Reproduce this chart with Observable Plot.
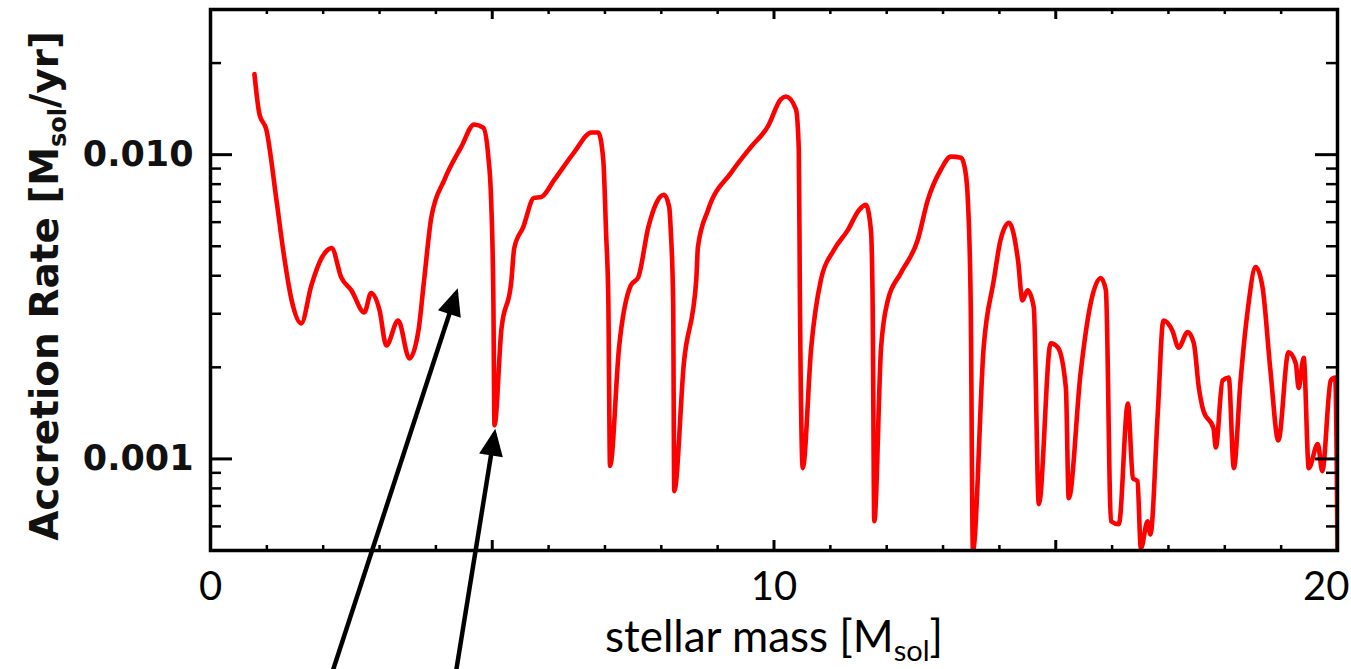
<!DOCTYPE html>
<html><head><meta charset="utf-8">
<script src="https://cdn.jsdelivr.net/npm/d3@7"></script>
<script src="https://cdn.jsdelivr.net/npm/@observablehq/plot@0.6"></script>
<style>body{margin:0;background:#fff;} #chart svg{display:block;overflow:hidden;}</style>
</head><body><div id="chart"></div>
<script>
// stellar mass [Msol]
const mass = [
  0.78, 0.87, 0.99, 1.17, 1.29, 1.44, 1.61, 1.79, 1.97, 2.15,
  2.32, 2.50, 2.73, 2.85, 3.00, 3.12, 3.33, 3.53, 3.69, 3.79,
  3.92, 4.15, 4.45, 4.68, 4.84, 4.93, 4.98, 5.02, 5.04, 5.16,
  5.34, 5.39, 5.55, 5.74, 5.87, 6.10, 6.45, 6.76, 6.88, 6.97,
  7.02, 7.06, 7.09, 7.25, 7.46, 7.59, 7.77, 7.94, 8.05, 8.14,
  8.17, 8.21, 8.23, 8.40, 8.62, 8.65, 8.83, 9.24, 9.59, 9.89,
  10.12, 10.21, 10.39, 10.44, 10.46, 10.51, 10.66, 10.83, 11.06, 11.31,
  11.51, 11.63, 11.72, 11.75, 11.78, 11.90, 12.02, 12.25, 12.55, 12.73,
  12.96, 13.14, 13.32, 13.40, 13.44, 13.49, 13.53, 13.72, 13.90, 14.02,
  14.17, 14.33, 14.41, 14.50, 14.61, 14.70, 14.91, 15.04, 15.18, 15.23,
  15.44, 15.62, 15.80, 15.89, 15.98, 16.12, 16.28, 16.37, 16.45, 16.51,
  16.63, 16.68, 16.81, 16.91, 17.07, 17.18, 17.34, 17.45, 17.54, 17.62,
  17.80, 17.84, 17.96, 18.07, 18.16, 18.28, 18.40, 18.55, 18.67, 18.81,
  18.95, 19.13, 19.26, 19.31, 19.40, 19.49, 19.65, 19.73, 19.88, 19.96,
  20.0
];
// accretion rate [Msol/yr]
const rate = [
  0.0184, 0.01355, 0.0121, 0.0071, 0.00485, 0.00332, 0.00279, 0.00372, 0.00457, 0.00493,
  0.00395, 0.00358, 0.00303, 0.00351, 0.00308, 0.00236, 0.00285, 0.00214, 0.00264, 0.00386,
  0.00624, 0.00826, 0.0106, 0.01257, 0.01227, 0.00985, 0.0071, 0.00332, 0.00129, 0.00264,
  0.00386, 0.00493, 0.00578, 0.00721, 0.00726, 0.00826, 0.01016, 0.01183, 0.01183, 0.00963,
  0.00553, 0.00332, 0.000948, 0.00232, 0.00372, 0.00395, 0.00578, 0.0071, 0.00738, 0.00673,
  0.00553, 0.00332, 0.000783, 0.00206, 0.00386, 0.00497, 0.00658, 0.00873, 0.0106, 0.01236,
  0.0152, 0.01553, 0.01409, 0.0104, 0.00332, 0.000933, 0.00232, 0.00386, 0.00485, 0.00565,
  0.00658, 0.00684, 0.00565, 0.00332, 0.000624, 0.00232, 0.00332, 0.00408, 0.00524, 0.0071,
  0.00892, 0.00985, 0.00977, 0.00873, 0.0071, 0.00332, 0.0005, 0.00232, 0.00386, 0.00524,
  0.00597, 0.0045, 0.00332, 0.00358, 0.00315, 0.00071, 0.0024, 0.00232, 0.00171, 0.000743,
  0.00191, 0.00325, 0.00393, 0.00358, 0.000624, 0.00061, 0.00152, 0.000865, 0.000845, 0.000508,
  0.000624, 0.000565, 0.00141, 0.00285, 0.00264, 0.00232, 0.00261, 0.0024, 0.00171, 0.00144,
  0.00126, 0.00109, 0.00181, 0.00185, 0.000933, 0.00181, 0.00301, 0.00427, 0.00366, 0.00195,
  0.00115, 0.00224, 0.00206, 0.00171, 0.00215, 0.000933, 0.00112, 0.000912, 0.00181, 0.00185,
  0.0005
];
const xMajorTicks = [0, 5, 10, 15, 20];
const xMinorTicks = [1, 2, 3, 4, 6, 7, 8, 9, 11, 12, 13, 14, 16, 17, 18, 19];
const xTickLabels = [0, 10, 20];
const yMajorTicks = [0.001, 0.01];
const yMinorTicks = [0.0006, 0.0007, 0.0008, 0.0009, 0.002, 0.003, 0.004, 0.005, 0.006, 0.007, 0.008, 0.009, 0.02];
// annotation arrows (tail -> head), in data units
const arrowFromMass = [2.11, 4.33];
const arrowFromRate = [0.000186, 0.000186];
const arrowToMass = [4.36, 5.04];
const arrowToRate = [0.00351, 0.00121];
const xLabelParts = ["stellar mass [M", "sol", "]"];
const yLabelParts = ["Accretion Rate [M", "sol", "/yr]"];

const W = 1351, H = 669, mL = 210, mR = 14, mT = 9, mB = 119;
const fw = W - mL - mR, fh = H - mT - mB;
const series = mass.map((m, i) => ({mass: m, rate: rate[i]}));
const arrows = arrowFromMass.map((m, i) => ({x1: m, y1: arrowFromRate[i], x2: arrowToMass[i], y2: arrowToRate[i]}));
const boldFont = "DejaVu Sans";
const lightFont = "Lato";

const plot = Plot.plot({
  width: W, height: H,
  marginLeft: mL, marginRight: mR, marginTop: mT, marginBottom: mB,
  style: {background: "#fff", overflow: "hidden"},
  x: {domain: [0, 20], axis: null},
  y: {type: "log", domain: [0.0005, 0.03], axis: null},
  marks: [
    Plot.line(series, {x: "mass", y: "rate", stroke: "#ff0000", strokeWidth: 4.6, curve: "monotone-x", clip: true, strokeLinejoin: "round"}),
    Plot.frame({stroke: "#000", strokeWidth: 3.5}),
    // y ticks, left & right, inward
    Plot.tickY(yMajorTicks, {y: d => d, insetRight: fw - 22, strokeWidth: 3}),
    Plot.tickY(yMajorTicks, {y: d => d, insetLeft: fw - 22, strokeWidth: 3}),
    Plot.tickY(yMinorTicks, {y: d => d, insetRight: fw - 11, strokeWidth: 2.5}),
    Plot.tickY(yMinorTicks, {y: d => d, insetLeft: fw - 11, strokeWidth: 2.5}),
    // x ticks, bottom & top, inward
    Plot.tickX(xMajorTicks, {x: d => d, insetTop: fh - 10, strokeWidth: 3}),
    Plot.tickX(xMajorTicks, {x: d => d, insetBottom: fh - 10, strokeWidth: 3}),
    Plot.tickX(xMinorTicks, {x: d => d, insetTop: fh - 5, strokeWidth: 2.5}),
    Plot.tickX(xMinorTicks, {x: d => d, insetBottom: fh - 5, strokeWidth: 2.5}),
    // tick labels
    Plot.text(yMajorTicks, {y: d => d, text: d => d3.format(".3f")(d), frameAnchor: "left", dx: -17, textAnchor: "end", lineAnchor: "middle", fontSize: 35, fontWeight: "bold", fontFamily: boldFont, fill: "#111"}),
    Plot.text(xTickLabels.slice(0, -1), {x: d => d, text: d => String(d), frameAnchor: "bottom", dy: 37, lineAnchor: "middle", fontSize: 40, fontFamily: lightFont, fill: "#000"}),
    Plot.text(xTickLabels.slice(-1), {x: d => d, text: d => String(d), frameAnchor: "bottom", dx: 12, dy: 37, textAnchor: "end", lineAnchor: "middle", fontSize: 40, fontFamily: lightFont, fill: "#000"}),
    // axis labels
    Plot.text([xLabelParts.join("")], {text: d => d, frameAnchor: "bottom", dy: 87, lineAnchor: "middle", fontSize: 44, fontFamily: lightFont, fill: "#000"}),
    Plot.text([yLabelParts.join("")], {text: d => d, frameAnchor: "left", rotate: -90, dx: 45 - mL, dy: 6, lineAnchor: "middle", textAnchor: "middle", fontSize: 39, fontWeight: "bold", fontFamily: boldFont, fill: "#111"}),
    // annotation arrows
    Plot.link(arrows, {x1: "x1", y1: "y1", x2: "x2", y2: "y2", stroke: "#000", strokeWidth: 4.5})
  ]
});

// filled arrowheads
const ns = "http://www.w3.org/2000/svg";
const defs = document.createElementNS(ns, "defs");
const marker = document.createElementNS(ns, "marker");
marker.setAttribute("id", "ahead");
marker.setAttribute("markerUnits", "userSpaceOnUse");
marker.setAttribute("viewBox", "-24 -14 32 28");
marker.setAttribute("markerWidth", 32);
marker.setAttribute("markerHeight", 28);
marker.setAttribute("refX", 0);
marker.setAttribute("refY", 0);
marker.setAttribute("orient", "auto");
const mp = document.createElementNS(ns, "path");
mp.setAttribute("d", "M5,0L-22,-12L-22,12Z");
mp.setAttribute("fill", "#000");
mp.setAttribute("stroke", "none");
marker.appendChild(mp);
defs.appendChild(marker);
plot.insertBefore(defs, plot.firstChild);
plot.querySelectorAll('g[aria-label="link"] path, g[aria-label="link"] line').forEach(p => p.setAttribute("marker-end", "url(#ahead)"));

// subscripts in axis labels
function subscript(parts, subSize, shift) {
  const full = parts.join("");
  const t = Array.from(plot.querySelectorAll("text")).find(e => e.textContent === full);
  if (!t) return;
  while (t.firstChild) t.removeChild(t.firstChild);
  const a = document.createElementNS(ns, "tspan"); a.textContent = parts[0]; t.appendChild(a);
  const b = document.createElementNS(ns, "tspan"); b.textContent = parts[1];
  b.setAttribute("font-size", subSize); b.setAttribute("dy", shift); t.appendChild(b);
  const c = document.createElementNS(ns, "tspan"); c.textContent = parts[2];
  c.setAttribute("dy", -shift); t.appendChild(c);
}
subscript(xLabelParts, 29, 9);
subscript(yLabelParts, 24, 8);

document.getElementById("chart").appendChild(plot);
</script>
</body></html>
